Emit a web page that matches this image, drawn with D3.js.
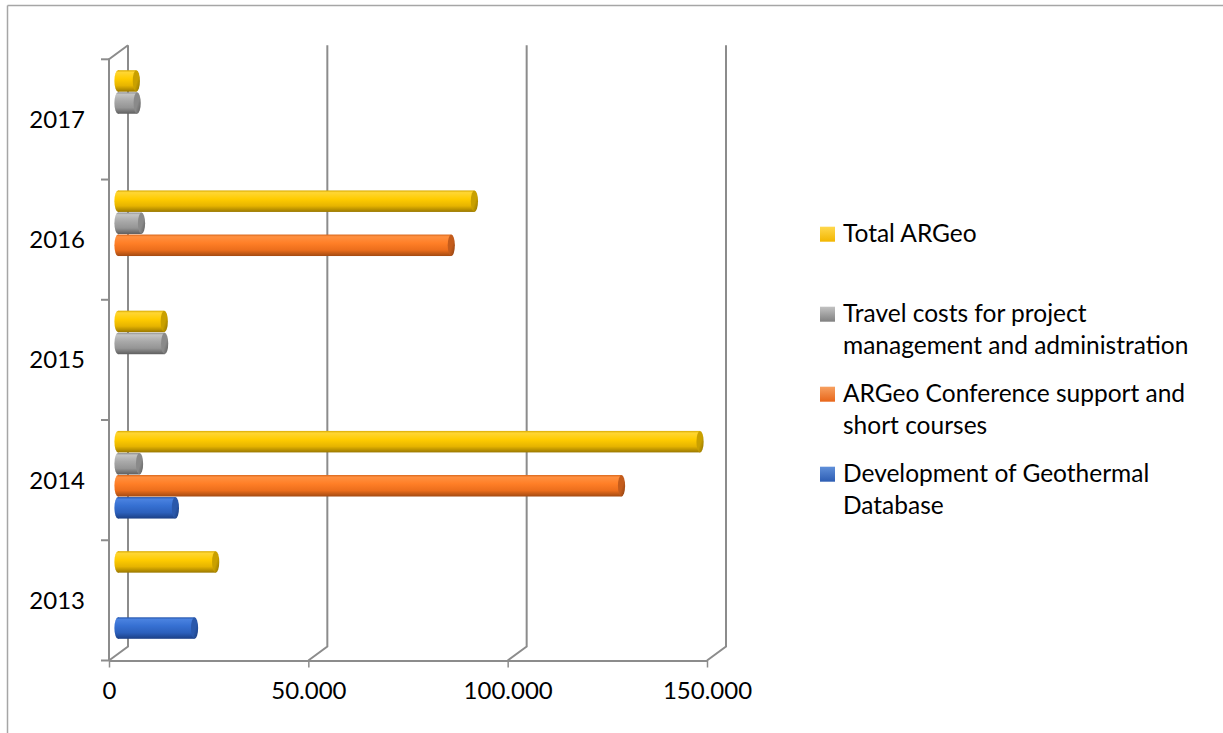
<!DOCTYPE html>
<html>
<head>
<meta charset="utf-8">
<script src="https://cdn.jsdelivr.net/npm/d3@7"></script>
<style>
  html, body { margin: 0; padding: 0; background: #ffffff; }
  svg { display: block; }
  text { font-family: Lato, "Open Sans", sans-serif; fill: #000; }
</style>
</head>
<body>
<svg id="chart" width="1223" height="733"></svg>
<script>
// Budget per year (EUR), by cost line
const categories = ["2013", "2014", "2015", "2016", "2017"];
const seriesNames = [
  "Total ARGeo",
  "Travel costs for project management and administration",
  "ARGeo Conference support and short courses",
  "Development of Geothermal Database"
];
const legendLines = [
  ["Total ARGeo"],
  ["Travel costs for project", "management and administration"],
  ["ARGeo Conference support and", "short courses"],
  ["Development of Geothermal", "Database"]
];
const totalArgeo      = [24500, 146000, 11600, 89400, 4600];
const travelCosts     = [null,   5400,  11700,  5900, 4800];
const conferenceCosts = [null, 126300,   null, 83600, null];
const databaseCosts   = [19200, 14400,   null,  null, null];
const seriesValues = [totalArgeo, travelCosts, conferenceCosts, databaseCosts];
const xTickValues = [0, 50000, 100000, 150000];

// Cylinder palettes: top rim, light, main, lower, bottom edge, end cap, legend swatch
const palettes = [
  { rim: "#d9aa00", light: "#ffd633", main: "#ffcc00", low: "#e6b400", edge: "#9a7800", cap: "#c9a000", capDark: "#8c6f00", swatchTop: "#ffd84d", swatchBot: "#f2b600" },
  { rim: "#8f8f8f", light: "#c4c4c4", main: "#a9a9a9", low: "#959595", edge: "#5e5e5e", cap: "#8a8a8a", capDark: "#5a5a5a", swatchTop: "#c2c2c2", swatchBot: "#808080" },
  { rim: "#d9661a", light: "#ff9040", main: "#ff7f27", low: "#ec6e1c", edge: "#a34a12", cap: "#c45c1c", capDark: "#8a3f10", swatchTop: "#f7a060", swatchBot: "#e8661a" },
  { rim: "#2556ad", light: "#4a82e0", main: "#3670d2", low: "#2c60bc", edge: "#1b3f85", cap: "#2a58ab", capDark: "#1a3b78", swatchTop: "#5f8fd9", swatchBot: "#2d5db3" }
];

const svg = d3.select("#chart");
const defs = svg.append("defs");

palettes.forEach((p, i) => {
  const g = defs.append("linearGradient").attr("id", "body" + i)
    .attr("x1", 0).attr("y1", 0).attr("x2", 0).attr("y2", 1);
  [[0, p.rim], [0.1, p.light], [0.4, p.main], [0.72, p.low], [1, p.edge]]
    .forEach(([o, c]) => g.append("stop").attr("offset", o).attr("stop-color", c));
  const c = defs.append("linearGradient").attr("id", "cap" + i)
    .attr("x1", 0).attr("y1", 0).attr("x2", 1).attr("y2", 1);
  [[0, p.cap], [0.55, p.cap], [1, p.capDark]]
    .forEach(([o, col]) => c.append("stop").attr("offset", o).attr("stop-color", col));
  const s = defs.append("linearGradient").attr("id", "sw" + i)
    .attr("x1", 0).attr("y1", 0).attr("x2", 0).attr("y2", 1);
  s.append("stop").attr("offset", 0).attr("stop-color", p.swatchTop);
  s.append("stop").attr("offset", 1).attr("stop-color", p.swatchBot);
});

// Outer frame
const frame = "#a6a6a6";
svg.append("line").attr("x1", 7.5).attr("y1", 5.5).attr("x2", 1223).attr("y2", 5.5)
  .attr("stroke", frame).attr("stroke-width", 1.5);
svg.append("line").attr("x1", 7.5).attr("y1", 5.5).attr("x2", 7.5).attr("y2", 733)
  .attr("stroke", frame).attr("stroke-width", 1.5);

// Front plane geometry and depth offset of the back wall
const front = { left: 109, right: 707, top: 59.3, bottom: 660.5 };
const depth = { dx: 19, dy: -14 };
const barShift = { dx: 9, dy: -5.4 };

const x = d3.scaleLinear().domain([0, 150000]).range([front.left, front.right]);
const y = d3.scaleBand().domain(categories.slice().reverse())
  .range([front.top, front.bottom]).paddingInner(0).paddingOuter(0);
const inner = d3.scaleBand().domain(d3.range(seriesNames.length))
  .range([0, y.bandwidth()]).paddingInner(0).paddingOuter(0.727);

const gridColor = "#8c8c8c";
const grid = svg.append("g").attr("stroke", gridColor).attr("stroke-width", 2).attr("fill", "none");

// Back wall gridlines with their floor diagonals
xTickValues.forEach(v => {
  const xf = x(v), xb = x(v) + depth.dx;
  grid.append("path")
    .attr("d", `M${xb},${front.top + depth.dy} L${xb},${front.bottom + depth.dy} L${xf},${front.bottom}`);
});
// Left wall front edge and top diagonal
grid.append("path")
  .attr("d", `M${x(0) + depth.dx},${front.top + depth.dy} L${x(0)},${front.top} L${x(0)},${front.bottom}`);

// Category axis ticks
const catEdges = categories.map(c => y(c)).concat([front.bottom]);
catEdges.forEach(yy => {
  grid.append("line").attr("x1", x(0) - 8).attr("x2", x(0)).attr("y1", yy).attr("y2", yy);
});

// Value axis (front floor edge) with ticks
const fmt = d3.formatLocale({ decimal: ",", thousands: ".", grouping: [3], currency: ["", ""] }).format(",");
const xAxis = d3.axisBottom(x).tickValues(xTickValues).tickSize(7).tickSizeOuter(0).tickPadding(14).tickFormat(fmt);
const axisG = svg.append("g").attr("transform", `translate(0,${front.bottom})`).call(xAxis);
axisG.select(".domain").attr("stroke", gridColor).attr("stroke-width", 2);
axisG.selectAll(".tick line").attr("stroke", gridColor).attr("stroke-width", 1.5);
axisG.selectAll(".tick text").attr("font-size", 24).attr("font-family", "Lato, sans-serif").attr("fill", "#000");

// Category labels
svg.append("g").selectAll("text").data(categories).join("text")
  .attr("x", 85).attr("y", d => y(d) + y.bandwidth() / 2)
  .attr("dy", "0.35em").attr("text-anchor", "end").attr("font-size", 24)
  .text(d => d);

// Cylinders
const bars = [];
seriesValues.forEach((vals, si) => {
  vals.forEach((v, ci) => {
    if (v != null) bars.push({ series: si, cat: categories[ci], value: v });
  });
});
const barH = inner.bandwidth() * 0.975;
const capRx = 3.6;
const barG = svg.append("g");
bars.forEach(b => {
  const cy = y(b.cat) + inner(b.series) + inner.bandwidth() / 2 + barShift.dy;
  const x0 = x(0) + barShift.dx;
  const x1 = x(b.value) + barShift.dx;
  const g = barG.append("g");
  g.append("ellipse").attr("cx", x0).attr("cy", cy).attr("rx", capRx).attr("ry", barH / 2)
    .attr("fill", `url(#body${b.series})`);
  g.append("rect").attr("x", x0).attr("y", cy - barH / 2).attr("width", Math.max(0, x1 - x0)).attr("height", barH)
    .attr("fill", `url(#body${b.series})`);
  g.append("ellipse").attr("cx", x1).attr("cy", cy).attr("rx", capRx).attr("ry", barH / 2)
    .attr("fill", `url(#cap${b.series})`);
});

// Legend
const legend = svg.append("g");
const legendBaselines = [241.7, 321.7, 401.7, 481.7];
legendLines.forEach((lines, i) => {
  const base = legendBaselines[i];
  legend.append("rect").attr("x", 820).attr("y", base - 15).attr("width", 15).attr("height", 15)
    .attr("fill", `url(#sw${i})`);
  lines.forEach((ln, k) => {
    legend.append("text").attr("x", 843).attr("y", base + k * 31.8)
      .attr("font-size", 24.5).text(ln);
  });
});
</script>
</body>
</html>
